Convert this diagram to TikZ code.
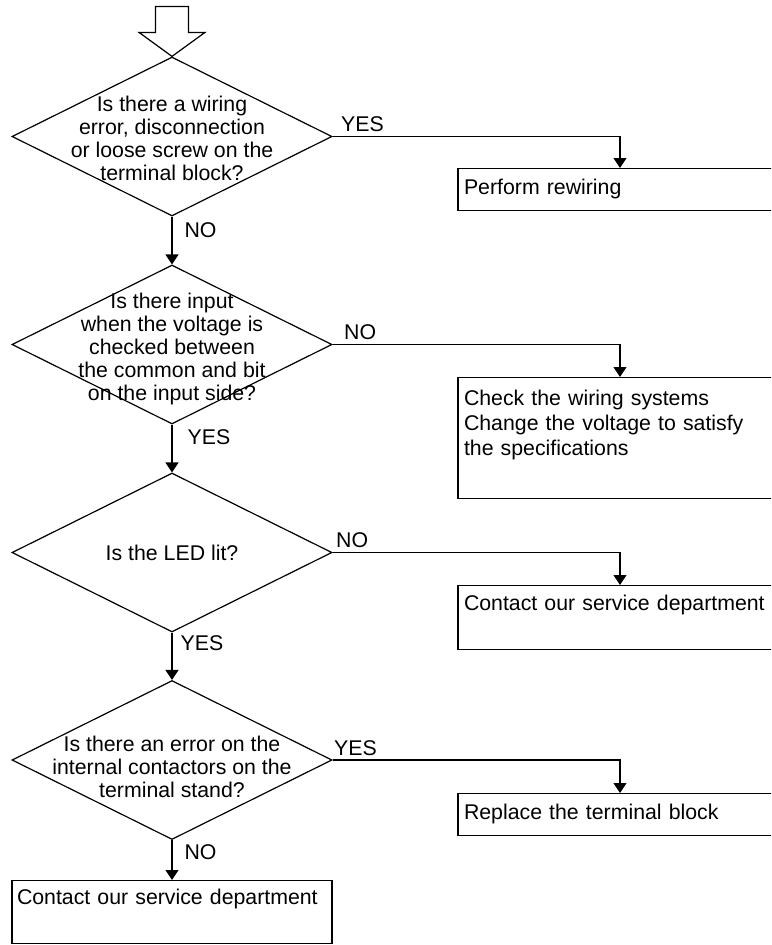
\documentclass[tikz,border=0pt]{standalone}
\usepackage{fontspec}
\setmainfont{Liberation Sans}
\usetikzlibrary{arrows.meta, shapes.geometric}
\definecolor{clrLine}{HTML}{000000}
\definecolor{clrText}{HTML}{000000}
\tikzset{
  decision/.style = {
    diamond, draw=clrLine, line width=1.2pt,
    minimum width=320pt, minimum height=159pt,
    inner sep=0pt,
  },
  qtext/.style = {
    font=\fontsize{21.3}{23}\selectfont, text=clrText,
    align=center, inner sep=0pt,
  },
  box/.style = {
    rectangle, draw=clrLine, line width=1.2pt,
    font=\fontsize{21.3}{25}\selectfont, text=clrText,
    align=left, text width=312pt,
    inner xsep=6pt, inner ysep=0pt, anchor=north,
  },
  hollow/.style = {draw=clrLine, line width=1.2pt, line join=miter},
  arr/.style  = {-{Triangle[length=10pt, width=13pt]}, line width=1.2pt, color=clrLine},
  lbl/.style  = {font=\fontsize{21.3}{25}\selectfont, text=clrText, inner sep=0pt},
}

\begin{document}
\begin{tikzpicture}[x=1pt, y=-1pt]

\useasboundingbox (0,0) rectangle (771,945);
\clip (0,0) rectangle (771,945);

% ══════════════════════════════════════════════════════════════════════════
%  LEFT COLUMN — checks
% ══════════════════════════════════════════════════════════════════════════

\node[decision, label={[qtext, yshift=-2pt]center:{Is there a wiring\\error, disconnection\\or loose screw on the\\terminal block?}}]
  (d1) at (172, 136.5) {};
\node[decision, label={[qtext, yshift=-4pt]center:{Is there input\\when the voltage is\\checked between\\the common and bit\\on the input side?}}]
  (d2) at (172, 344.5) {};
\node[decision, label={[qtext]center:{Is the LED lit?}}]
  (d3) at (172, 552.5) {};
\node[decision, label={[qtext, yshift=-7pt]center:{Is there an error on the\\internal contactors on the\\terminal stand?}}]
  (d4) at (172, 760  ) {};

\node[box, minimum height=63pt, text width=310pt, inner xsep=5pt]
  (b5) at (172, 880) {\strut Contact our service department\\\strut};

% ══════════════════════════════════════════════════════════════════════════
%  RIGHT COLUMN — remedies
% ══════════════════════════════════════════════════════════════════════════

\node[box, minimum height=42pt]  (b1) at (620, 168) {\strut Perform rewiring};
\node[box, minimum height=121pt] (b2) at (620, 377)
  {\strut Check the wiring systems\\\strut Change the voltage to satisfy\\\strut the specifications\\\strut};
\node[box, minimum height=64pt]  (b3) at (620, 585) {\strut Contact our service department\\\strut};
\node[box, minimum height=42pt]  (b4) at (620, 793) {\strut Replace the terminal block};

% ── entry arrow (hollow) ────────────────────────────────────────────────
\draw[hollow] (d1.north) -- ++(-33,-24) -- ++(16.5,0) -- ++(0,-26)
              -- ++(33,0) -- ++(0,26) -- ++(16.5,0) -- cycle;

% ══════════════════════════════════════════════════════════════════════════
%  Arrows — main line
% ══════════════════════════════════════════════════════════════════════════

\draw[arr] (d1.south) -- (d2.north) node[lbl, anchor=west, pos=0.29, xshift=12pt]{NO};
\draw[arr] (d2.south) -- (d3.north) node[lbl, anchor=west, pos=0.27, xshift=15pt]{YES};
\draw[arr] (d3.south) -- (d4.north) node[lbl, anchor=west, pos=0.23, xshift=8pt]{YES};
\draw[arr] (d4.south) -- (b5.north) node[lbl, anchor=west, pos=0.30, xshift=12pt]{NO};

% ══════════════════════════════════════════════════════════════════════════
%  Arrows — branches to the right
% ══════════════════════════════════════════════════════════════════════════

\draw[arr] (d1.east) -| (b1.north)
           node[lbl, pos=0, anchor=south west, xshift=8pt, yshift=4pt]{YES};
\draw[arr] (d2.east) -| (b2.north)
           node[lbl, pos=0, anchor=south west, xshift=11pt, yshift=4pt]{NO};
\draw[arr] (d3.east) -| (b3.north)
           node[lbl, pos=0, anchor=south west, xshift=3pt, yshift=4pt]{NO};
\draw[arr] (d4.east) -| (b4.north)
           node[lbl, pos=0, anchor=south west, xshift=1pt, yshift=4pt]{YES};

\end{tikzpicture}
\end{document}
